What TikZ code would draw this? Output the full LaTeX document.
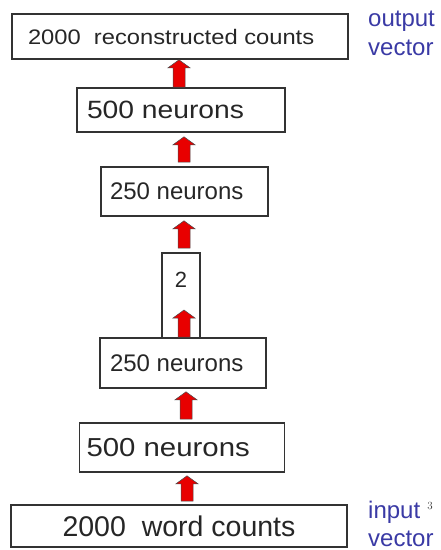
\documentclass[tikz,border=0pt]{standalone}
\usepackage{fontspec}
\usetikzlibrary{calc}
\newfontfamily\arial{Liberation Sans}
\newfontfamily\wide[FakeStretch=1.13]{Liberation Sans}
\definecolor{lblblue}{RGB}{58,58,165}
\definecolor{arrred}{RGB}{232,0,0}
\begin{document}
\begin{tikzpicture}[x=1pt,y=-1pt,
  box/.style={draw=black!80, line width=1.6pt, inner ysep=0pt, text=black!85},
  redarrow/.style={fill=arrred, draw=black!70, line width=0.5pt,
    to path={let \p1=(\tikztostart), \p2=(\tikztotarget) in
      (\x1-6pt,\y1+#1) -- (\x1+6pt,\y1+#1) -- (\x1+6pt,\y2-#1-8pt) -- (\x1+11pt,\y2-#1-8pt)
      -- (\x1,\y2-#1) -- (\x1-11pt,\y2-#1-8pt) -- (\x1-6pt,\y2-#1-8pt) -- cycle}},
  redarrow/.default=0pt,
  lbl/.style={text=lblblue, font=\arial\fontsize{24}{29}\selectfont, anchor=base west, inner sep=0pt}]
\useasboundingbox (0,0) rectangle (441,550);

\node[box, inner xsep=16pt, minimum height=45pt] (b1) at (180,36.5)
  {\makebox[304pt][l]{\wide\fontsize{21}{25}\selectfont 2000\ \ reconstructed counts}};
\node[box, inner xsep=10pt, minimum height=44pt] (b2) at (181,110)
  {\makebox[188pt][l]{\wide\fontsize{25}{30}\selectfont 500 neurons}};
\node[box, inner xsep=9pt, minimum height=49pt] (b3) at (184.5,191.5)
  {\makebox[149pt][l]{\arial\fontsize{24}{29}\selectfont 250 neurons}};
\node[box, minimum width=38pt, minimum height=85pt, inner sep=0pt, text height=16pt, text depth=32pt] (c2) at (181,295.5)
  {\arial\fontsize{22}{26}\selectfont 2};
\node[box, inner xsep=10pt, minimum height=50pt] (b4) at (183,363)
  {\makebox[146pt][l]{\arial\fontsize{24}{29}\selectfont 250 neurons}};
\node[box, inner xsep=7pt, minimum height=49pt] (b5) at (182,447.5)
  {\makebox[191pt][l]{\wide\fontsize{26}{31}\selectfont 500 neurons}};
\node[box, minimum width=336pt, minimum height=42pt] (b6) at (179,526)
  {\arial\fontsize{28.5}{34}\selectfont 2000\ \ word counts};

\coordinate (x1) at (179,0);
\coordinate (x2) at (184,0);
\coordinate (x5) at (186,0);
\coordinate (x6) at (187,0);
\coordinate (tip2) at (184,310);

\draw[redarrow] (b2.north -| x1) to (b1.south -| x1);
\draw[redarrow=4pt] (b3.north -| x2) to (b2.south -| x2);
\draw[redarrow=4pt] (c2.north -| x2) to (b3.south -| x2);
\draw[redarrow] (b4.north -| tip2) to (tip2);
\draw[redarrow=3pt] (b5.north -| x5) to (b4.south -| x5);
\draw[redarrow=3pt] (b6.north -| x6) to (b5.south -| x6);

\node[lbl] (o1) at (368,26) {output};
\node[lbl] (o2) at (368,55) {vector};
\node[lbl] (i1) at (368,518) {input};
\node[lbl] (i2) at (368,546) {vector};
\node[font=\fontsize{11}{13}\selectfont, text=black!80, inner sep=0pt] (n3) at (430,506) {3};
\end{tikzpicture}
\end{document}
